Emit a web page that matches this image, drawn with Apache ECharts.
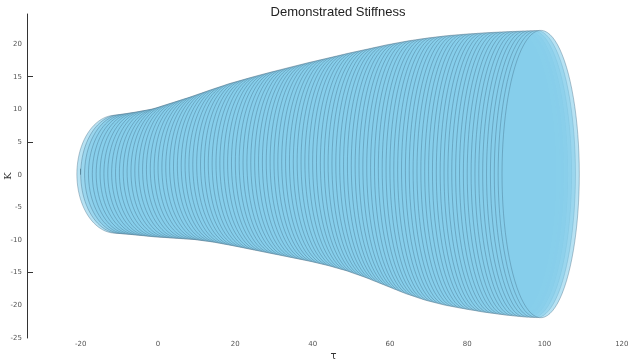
<!DOCTYPE html>
<html>
<head>
<meta charset="utf-8">
<title>Demonstrated Stiffness</title>
<script src="https://cdn.jsdelivr.net/npm/echarts@6.0.0/dist/echarts.min.js"></script>
<style>
    html, body { margin: 0; padding: 0; background: #fff; }
    #chart { width: 640px; height: 359px; }
</style>
</head>
<body>
<div id="chart"></div>
<script>
// centre of each stiffness ellipse on the tau axis
var tau = [
    -11, -10, -9, -8, -7, -6, -5, -4, -3, -2, -1,
    0, 1, 2, 3, 4, 5, 6, 7, 8, 9,
    10, 11, 12, 13, 14, 15, 16, 17, 18, 19,
    20, 21, 22, 23, 24, 25, 26, 27, 28, 29,
    30, 31, 32, 33, 34, 35, 36, 37, 38, 39,
    40, 41, 42, 43, 44, 45, 46, 47, 48, 49,
    50, 51, 52, 53, 54, 55, 56, 57, 58, 59,
    60, 61, 62, 63, 64, 65, 66, 67, 68, 69,
    70, 71, 72, 73, 74, 75, 76, 77, 78, 79,
    80, 81, 82, 83, 84, 85, 86, 87, 88, 89,
    90, 91, 92, 93, 94, 95, 96, 97, 98, 99
]
// upper K extent of each ellipse
var kTop = [
    9.1, 9.18, 9.26, 9.34, 9.43, 9.52, 9.62, 9.72, 9.83, 9.94, 10.05,
    10.15, 10.34, 10.53, 10.72, 10.91, 11.1, 11.29, 11.48, 11.67, 11.86,
    12.05, 12.26, 12.47, 12.68, 12.89, 13.1, 13.3, 13.5, 13.7, 13.9,
    14.1, 14.27, 14.44, 14.61, 14.78, 14.95, 15.11, 15.27, 15.43, 15.59,
    15.75, 15.9, 16.05, 16.2, 16.35, 16.5, 16.65, 16.8, 16.95, 17.1,
    17.25, 17.39, 17.53, 17.67, 17.81, 17.95, 18.09, 18.23, 18.37, 18.51,
    18.65, 18.78, 18.91, 19.04, 19.17, 19.3, 19.43, 19.56, 19.69, 19.82,
    19.95, 20.06, 20.17, 20.28, 20.39, 20.5, 20.59, 20.68, 20.77, 20.86,
    20.95, 21.02, 21.09, 21.16, 21.23, 21.3, 21.35, 21.4, 21.45, 21.5,
    21.55, 21.59, 21.63, 21.67, 21.71, 21.75, 21.78, 21.81, 21.84, 21.87,
    21.9, 21.92, 21.95, 21.97, 22.0, 22.02, 22.04, 22.06, 22.08, 22.1
]
// lower K extent of each ellipse
var kBottom = [
    -8.95, -9.0, -9.05, -9.1, -9.15, -9.2, -9.26, -9.32, -9.38, -9.44, -9.5,
    -9.55, -9.59, -9.63, -9.67, -9.71, -9.75, -9.79, -9.83, -9.87, -9.91,
    -9.95, -10.03, -10.11, -10.19, -10.27, -10.35, -10.46, -10.57, -10.68, -10.79,
    -10.9, -11.02, -11.14, -11.26, -11.38, -11.5, -11.62, -11.74, -11.86, -11.98,
    -12.1, -12.22, -12.34, -12.46, -12.58, -12.7, -12.82, -12.94, -13.06, -13.18,
    -13.3, -13.44, -13.58, -13.72, -13.86, -14.0, -14.17, -14.34, -14.51, -14.68,
    -14.85, -15.06, -15.27, -15.48, -15.69, -15.9, -16.14, -16.38, -16.62, -16.86,
    -17.1, -17.34, -17.58, -17.82, -18.06, -18.3, -18.5, -18.7, -18.9, -19.1,
    -19.3, -19.45, -19.6, -19.75, -19.9, -20.05, -20.16, -20.27, -20.38, -20.49,
    -20.6, -20.7, -20.8, -20.9, -21.0, -21.1, -21.18, -21.26, -21.34, -21.42,
    -21.5, -21.56, -21.62, -21.68, -21.74, -21.8, -21.83, -21.86, -21.88, -21.9
]
// half width of every ellipse along tau
var tauRadius = 10

var xLabels = [-20, 0, 20, 40, 60, 80, 100, 120]
var xTicks = [-20, 20, 60, 100]
var yLabels = [20, 15, 10, 5, 0, -5, -10, -15, -20, -25]
var yTicks = [15, 5, -15]

var seriesData = tau.map(function (t, i) {
    return [t, kTop[i], kBottom[i]]
})

var chart = echarts.init(document.getElementById('chart'), null, { renderer: 'canvas' })

var option = {
    animation: false,
    title: {
        text: 'Demonstrated Stiffness',
        left: 333,
        textAlign: 'center',
        top: 1,
        textStyle: {
            fontFamily: 'Liberation Sans',
            fontSize: 13,
            fontWeight: 'normal',
            color: '#222'
        }
    },
    grid: {
        left: 27,
        right: 0,
        top: 14,
        bottom: 21,
        containLabel: false,
        outerBoundsMode: 'none'
    },
    xAxis: {
        type: 'value',
        min: -33.9,
        max: 124.7,
        name: 'τ',
        nameLocation: 'middle',
        nameGap: 13,
        nameMoveOverlap: false,
        nameTextStyle: { fontSize: 10, color: '#333', fontFamily: 'DejaVu Sans' },
        axisLine: { show: false },
        axisTick: {
            show: true,
            inside: true,
            length: 6,
            customValues: xTicks,
            lineStyle: { color: '#333', width: 1 }
        },
        axisLabel: {
            customValues: xLabels,
            fontSize: 7,
            color: '#555',
            margin: 3,
            fontFamily: 'DejaVu Sans'
        },
        splitLine: { show: false }
    },
    yAxis: {
        type: 'value',
        min: -25,
        max: 24.6,
        name: 'K',
        nameLocation: 'middle',
        nameGap: 14,
        nameMoveOverlap: false,
        nameRotate: 90,
        nameTextStyle: { fontSize: 10, color: '#333', fontFamily: 'DejaVu Serif' },
        axisLine: {
            show: true,
            onZero: false,
            lineStyle: { color: '#333', width: 1 }
        },
        axisTick: {
            show: true,
            inside: true,
            length: 6,
            customValues: yTicks,
            lineStyle: { color: '#333', width: 1 }
        },
        axisLabel: {
            customValues: yLabels,
            fontSize: 7,
            color: '#555',
            margin: 5,
            fontFamily: 'DejaVu Sans'
        },
        splitLine: { show: false }
    },
    series: [
        {
            type: 'custom',
            clip: true,
            encode: { x: 0, y: [1, 2] },
            data: seriesData,
            renderItem: function (params, api) {
                var t = api.value(0)
                var top = api.value(1)
                var bot = api.value(2)
                var cy = (top + bot) / 2
                var ry = (top - bot) / 2
                var pts = []
                for (var k = 0; k < 90; k++) {
                    var ang = k / 90 * Math.PI * 2
                    pts.push(api.coord([t + tauRadius * Math.cos(ang), cy + ry * Math.sin(ang)]))
                }
                return {
                    type: 'polygon',
                    shape: { points: pts },
                    style: {
                        fill: 'rgba(135,206,235,0.6)',
                        stroke: 'rgba(55,95,120,0.6)',
                        lineWidth: 0.6
                    }
                }
            }
        }
    ]
}

chart.setOption(option)
</script>
</body>
</html>
